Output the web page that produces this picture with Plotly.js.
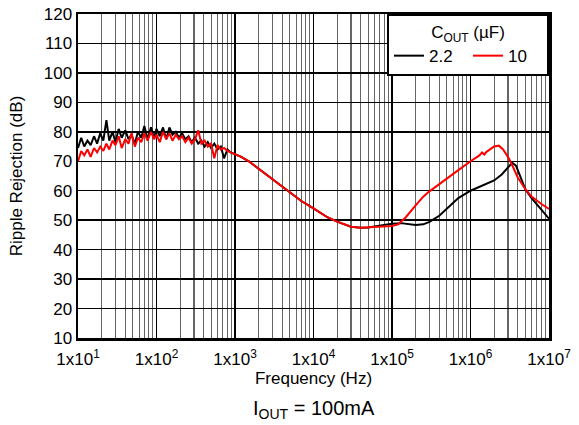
<!DOCTYPE html>
<html>
<head>
<meta charset="utf-8">
<script src="https://cdn.plot.ly/plotly-3.0.1.min.js"></script>
<style>html,body{margin:0;padding:0;background:#fff;}#chart{width:579px;height:425px;}</style>
</head>
<body>
<div id="chart"></div>
<script>
// Low-frequency noisy region (Hz)
var freqLow = [10, 11, 12, 13.2, 14.5, 16, 17.5, 19.2, 21, 23, 25, 27.5, 30, 33, 36, 40, 44, 48, 53, 58, 64, 70, 77, 85, 93, 100, 110, 121, 133, 146, 160, 176, 193, 212, 233, 256, 281, 309, 340, 373, 410, 450, 495, 545, 600, 660, 725, 800, 880, 970];
var black22Low = [74.5, 78, 75, 77, 75.5, 78.5, 76, 79.5, 77, 84, 77, 80, 76.5, 81, 78, 80.5, 77.5, 79, 76, 80, 78, 82, 77.5, 81.5, 78, 81, 78.5, 81.5, 77.5, 81.5, 79, 80, 78, 79.5, 77.5, 78.5, 76.5, 78, 76, 77, 75, 76.5, 74.5, 76, 74, 75, 71, 74, 73, 72.5];
var red10Low = [70, 73.5, 72, 74, 71.5, 74.5, 73, 75, 73.5, 76, 74, 77, 75.5, 78.5, 74.5, 77.5, 76, 79.5, 75, 78, 76.5, 79.5, 77, 80, 77.5, 79, 76.5, 80, 77.5, 79.5, 77, 79, 77.5, 78.5, 76.5, 78, 76, 77.5, 80.5, 76, 77, 75, 76, 71, 75.5, 74, 74.5, 73.5, 73, 72.5];

// Smooth region, 2.2 uF
var freqHi22 = [1000, 1200, 1500, 2000, 3000, 4000, 5000, 7000, 1e4, 1.5e4, 2e4, 3e4, 4e4, 5e4, 6e4, 8e4, 1e5, 1.3e5, 1.6e5, 2e5, 2.5e5, 3e5, 4e5, 5e5, 7e5, 1e6, 1.5e6, 2e6, 2.5e6, 3e6, 3.4e6, 3.8e6, 4.3e6, 5e6, 6e6, 7e6, 8e6, 9e6, 1e7];
var black22Hi = [72.5, 71.5, 70, 67.5, 64, 61.5, 59.5, 56.5, 54, 51, 49.5, 47.8, 47.4, 47.5, 47.9, 48.4, 48.8, 49, 48.8, 48.4, 48.6, 49.4, 51.5, 54, 57.5, 60, 62, 63.5, 65.5, 68, 69.5, 68.5, 65, 60.5, 57.5, 55.5, 53.5, 52, 50.5];

// Smooth region, 10 uF
var freqHi10 = [1000, 1200, 1500, 2000, 3000, 4000, 5000, 7000, 1e4, 1.5e4, 2e4, 3e4, 4e4, 5e4, 6e4, 8e4, 1e5, 1.2e5, 1.5e5, 2e5, 2.5e5, 3e5, 4e5, 5e5, 7e5, 1e6, 1.3e6, 1.4e6, 1.5e6, 1.6e6, 2e6, 2.3e6, 2.6e6, 3e6, 3.3e6, 4e6, 5e6, 6e6, 7e6, 8e6, 1e7];
var red10Hi = [72.5, 71.5, 70, 67.5, 64, 61.5, 59.5, 56.5, 54, 51, 49.5, 47.8, 47.4, 47.5, 47.6, 47.8, 48, 48.6, 51, 55, 58, 59.8, 62.3, 64.3, 67, 70, 72, 73, 72.3, 73.2, 75, 75.3, 74, 71.5, 69.4, 64.5, 60.5, 58, 56.5, 55.5, 53.8];

var seriesNames = ["2.2", "10"];
var seriesColors = ["#000000", "#ff0000"];
var decades = [1, 2, 3, 4, 5, 6, 7];
var yTicks = [10, 20, 30, 40, 50, 60, 70, 80, 90, 100, 110, 120];

var majorVals = decades.map(function (d) { return Math.pow(10, d); });
var majorText = decades.map(function (d) { return "1x10<sup>" + d + "</sup>"; });
var minorVals = [];
decades.slice(0, -1).forEach(function (d) {
  for (var m = 2; m <= 9; m++) minorVals.push(m * Math.pow(10, d));
});

var font = "Liberation Sans, Arial, sans-serif";
var traces = [
  {x: freqLow.concat(freqHi22), y: black22Low.concat(black22Hi), name: seriesNames[0], mode: "lines",
   line: {color: seriesColors[0], width: 2}},
  {x: freqLow.concat(freqHi10), y: red10Low.concat(red10Hi), name: seriesNames[1], mode: "lines",
   line: {color: seriesColors[1], width: 2}}
];

var layout = {
  width: 579, height: 425,
  margin: {l: 78, r: 30, t: 14, b: 87},
  paper_bgcolor: "#fff", plot_bgcolor: "#fff",
  font: {family: font, size: 17, color: "#000"},
  showlegend: true,
  xaxis: {
    type: "log", range: [1, 7],
    tickmode: "array", tickvals: majorVals, ticktext: majorText,
    showgrid: true, gridcolor: "#000", gridwidth: 1.4,
    minor: {tickmode: "array", tickvals: minorVals, showgrid: true, gridcolor: "#666", gridwidth: 1.1, ticks: ""},
    ticks: "", ticklabelstandoff: 4, showline: true, linecolor: "#000", linewidth: 2.5, mirror: true,
    zeroline: false, tickfont: {size: 17},
    title: {text: "Frequency (Hz)", font: {size: 17}, standoff: 2}
  },
  yaxis: {
    range: [10, 120], tickmode: "array", tickvals: yTicks,
    showgrid: true, gridcolor: "#000", gridwidth: 1.4,
    ticks: "", showline: true, linecolor: "#000", linewidth: 2.5, mirror: true,
    zeroline: false, tickfont: {size: 17},
    title: {text: "Ripple Rejection (dB)", font: {size: 17}, standoff: 17}
  },
  legend: {
    x: 1, xanchor: "right", y: 1, yanchor: "top",
    orientation: "h", bgcolor: "#fff", bordercolor: "#000", borderwidth: 2,
    font: {size: 17},
    title: {text: "C<sub>OUT</sub> (µF)", side: "top center", font: {size: 17}},
    entrywidth: 34
  },
  annotations: [{
    xref: "paper", yref: "paper", x: 0.5, y: -0.175, yanchor: "top", xanchor: "center",
    text: "I<sub>OUT</sub> = 100mA", showarrow: false, font: {size: 20}
  }]
};

Plotly.newPlot("chart", traces, layout, {displayModeBar: false, staticPlot: true});
</script>
</body>
</html>
